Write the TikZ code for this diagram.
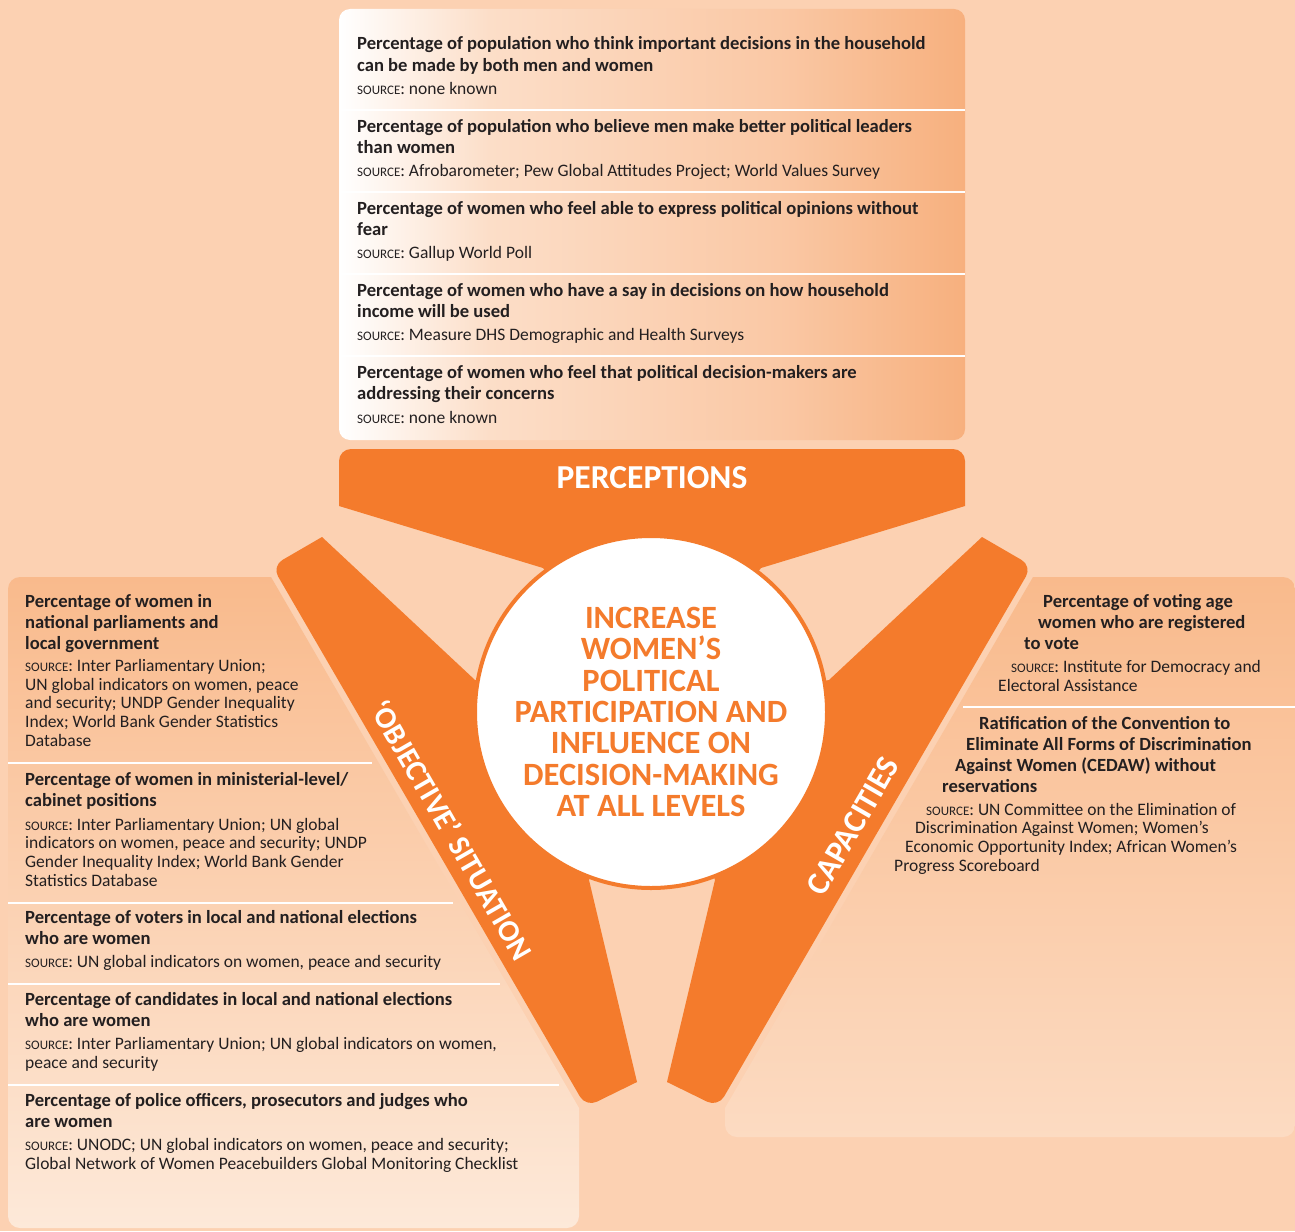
\documentclass[tikz,border=0pt]{standalone}
\usepackage{fontspec}
\setmainfont{Carlito}
\usetikzlibrary{positioning}
\definecolor{peach}{RGB}{252,209,178}
\definecolor{brand}{RGB}{244,123,44}
\definecolor{panetop}{RGB}{249,186,140}
\definecolor{panelow}{RGB}{253,233,217}
\definecolor{toplight}{RGB}{252,222,200}
\definecolor{topmid}{RGB}{250,200,165}
\definecolor{topedge}{RGB}{247,176,126}
\definecolor{ink}{RGB}{35,31,32}
\pgfdeclarehorizontalshading{perceptfade}{100bp}{color(0bp)=(white); color(25bp)=(white); color(37bp)=(toplight); color(60bp)=(topmid); color(75bp)=(topedge); color(100bp)=(topedge)}
\newcommand\srcword{{\fontsize{13}{13}\selectfont SOURCE}}
\begin{document}
\begin{tikzpicture}[x=1pt,y=-1pt]
	\tikzset{cue/.style = {anchor=base west, align=left, inner sep=0pt, text=ink, font=\fontsize{18.6}{21}\selectfont\bfseries}}
	\tikzset{cite/.style = {anchor=base west, align=left, inner sep=0pt, text=ink, font=\fontsize{17.5}{18.6}\selectfont}}
	\tikzset{divider/.style = {draw=white, line width=2.5pt}}
	\tikzset{armtext/.style = {text=white, inner sep=0pt, font=\fontsize{33.5}{33.5}\selectfont\bfseries}}
	\tikzset{hub/.style = {circle, fill=white, draw=brand, line width=4pt, minimum size=352pt, inner sep=0pt, align=center, text=brand, font=\fontsize{32.5}{31.3}\selectfont\bfseries}}
	\useasboundingbox (0,0) rectangle (1295,1231);
	\fill[peach] (0,0) rectangle (1295,1231);
	\path[shading=perceptfade, rounded corners=11pt] (339,9) rectangle (965,440);
	\foreach \y in {110,192,274,356}
		\draw[divider] (339,\y) -- (965,\y);
	\fill[brand] (339,506) [rounded corners=12pt] -- (339,449) -- (965,449) [sharp corners] -- (965,506) -- (761,568) -- (652,712) -- (543,568) -- cycle;
	\fill[brand] (322,537) [rounded corners=12pt] -- (272,566) -- (586,1107) [sharp corners] -- (637,1082) -- (589,880) -- (651,712) -- (475,680) -- cycle;
	\fill[brand] (982,537) [rounded corners=12pt] -- (1032,566) -- (718,1107) [sharp corners] -- (667,1082) -- (715,880) -- (653,712) -- (829,680) -- cycle;
	\path[top color=panetop, bottom color=panelow] (579,1150) [rounded corners=12pt] -- (579,1228) -- (8,1228) -- (8,577) [sharp corners] -- (271,577) -- (579,1108) -- cycle;
	\path[top color=panetop, bottom color=panelow!70!panetop] (725,1120) [rounded corners=12pt] -- (725,1137) -- (1295,1137) -- (1295,577) [sharp corners] -- (1033,577) -- (725,1108) -- cycle;
	\foreach \y in {763,903,984,1085}
		\draw[divider] (8,\y) -- ({264+0.58*(\y-577)},\y);
	\draw[divider] (963,707) -- (1295,707);
	\node[hub] (goal) at (651,712) {INCREASE\\WOMEN’S\\POLITICAL\\PARTICIPATION AND\\INFLUENCE ON\\DECISION-MAKING\\AT ALL LEVELS};
	\node[armtext] (perceptions) at (652,478) {PERCEPTIONS};
	\node[armtext, rotate=-60, font=\fontsize{30.5}{30.5}\selectfont\bfseries] (objective) at (452,830) {‘OBJECTIVE’ SITUATION};
	\node[armtext, rotate=60, font=\fontsize{32.5}{32.5}\selectfont\bfseries] (capacities) at (853,826) {CAPACITIES};
	\node[cue] (pq1) at (357,71) {Percentage of population who think important decisions in the household\\can be made by both men and women};
	\node[cite] (ps1) at (357,94) {\srcword: none known};
	\node[cue] (pq2) at (357,153) {Percentage of population who believe men make better political leaders\\than women};
	\node[cite] (ps2) at (357,176) {\srcword: Afrobarometer; Pew Global Attitudes Project; World Values Survey};
	\node[cue] (pq3) at (357,235) {Percentage of women who feel able to express political opinions without\\fear};
	\node[cite] (ps3) at (357,258) {\srcword: Gallup World Poll};
	\node[cue] (pq4) at (357,317) {Percentage of women who have a say in decisions on how household\\income will be used};
	\node[cite] (ps4) at (357,340) {\srcword: Measure DHS Demographic and Health Surveys};
	\node[cue] (pq5) at (357,399) {Percentage of women who feel that political decision-makers are\\addressing their concerns};
	\node[cite] (ps5) at (357,423) {\srcword: none known};
	\node[cue] (oq1) at (25,649) {Percentage of women in\\national parliaments and\\local government};
	\node[cite] (os1) at (25,746) {\srcword: Inter Parliamentary Union;\\UN global indicators on women, peace\\and security; UNDP Gender Inequality\\Index; World Bank Gender Statistics\\Database};
	\node[cue] (oq2) at (25,806) {Percentage of women in ministerial-level/\\cabinet positions};
	\node[cite] (os2) at (25,886) {\srcword: Inter Parliamentary Union; UN global\\indicators on women, peace and security; UNDP\\Gender Inequality Index; World Bank Gender\\Statistics Database};
	\node[cue] (oq3) at (25,944) {Percentage of voters in local and national elections\\who are women};
	\node[cite] (os3) at (25,967) {\srcword: UN global indicators on women, peace and security};
	\node[cue] (oq4) at (25,1026) {Percentage of candidates in local and national elections\\who are women};
	\node[cite] (os4) at (25,1068) {\srcword: Inter Parliamentary Union; UN global indicators on women,\\peace and security};
	\node[cue] (oq5) at (25,1127) {Percentage of police officers, prosecutors and judges who\\are women};
	\node[cite] (os5) at (25,1169) {\srcword: UNODC; UN global indicators on women, peace and security;\\Global Network of Women Peacebuilders Global Monitoring Checklist};
	\node[cue] (cq1) at (1024,649) {\hspace*{19pt}Percentage of voting age\\\hspace*{14pt}women who are registered\\to vote};
	\node[cite] (cs1) at (998,691) {\hspace*{13pt}\srcword: Institute for Democracy and\\Electoral Assistance};
	\node[cue] (cq2) at (942,792) {\hspace*{37pt}Ratification of the Convention to\\\hspace*{24pt}Eliminate All Forms of Discrimination\\\hspace*{13pt}Against Women (CEDAW) without\\reservations};
	\node[cite] (cs2) at (894,871) {\hspace*{32pt}\srcword: UN Committee on the Elimination of\\\hspace*{21pt}Discrimination Against Women; Women’s\\\hspace*{11pt}Economic Opportunity Index; African Women’s\\Progress Scoreboard};
\end{tikzpicture}
\end{document}
